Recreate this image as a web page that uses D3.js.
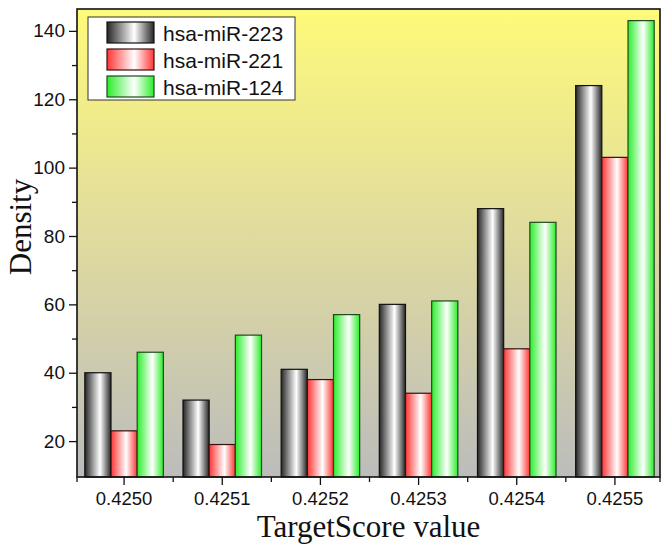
<!DOCTYPE html>
<html>
<head>
<meta charset="utf-8">
<script src="https://cdn.jsdelivr.net/npm/d3@7"></script>
<style>
  body { margin: 0; background: #fff; }
  .axis text { font-family: 'Liberation Sans', Arial, sans-serif; font-size: 19px; fill: #111; }
  .x-axis text { font-size: 18.5px; }
  .axis line { stroke: #111; stroke-width: 1.3; }
  .title { font-family: 'Liberation Serif', 'Times New Roman', serif; font-size: 31px; fill: #111; }
</style>
</head>
<body>
<div id="chart"></div>
<script>
// values
let scores = ['0.4250', '0.4251', '0.4252', '0.4253', '0.4254', '0.4255']
let mir223 = [40, 32, 41, 60, 88, 124]
let mir221 = [23, 19, 38, 34, 47, 103]
let mir124 = [46, 51, 57, 61, 84, 143]
let seriesNames = ['hsa-miR-223', 'hsa-miR-221', 'hsa-miR-124']
let yTicks = [20, 40, 60, 80, 100, 120, 140]
let yMinorTicks = [30, 50, 70, 90, 110, 130]

let seriesValues = [mir223, mir221, mir124]
let edgeColors = ['#262626', '#ff3535', '#2aee2a']
let strokeColors = ['#111', '#3a1010', '#1e4a1e']

let margin = { top: 9, left: 77, right: 10, bottom: 76 }
let width = 670 - margin.left - margin.right
let height = 553 - margin.top - margin.bottom

let svg = d3
  .select('#chart')
  .append('svg')
  .attr('width', 670)
  .attr('height', 553)

let defs = svg.append('defs')

let bg = defs
  .append('linearGradient')
  .attr('id', 'bg')
  .attr('x1', 0).attr('y1', 0).attr('x2', 0).attr('y2', 1)
bg.append('stop').attr('offset', '0%').attr('stop-color', '#fefa7a')
bg.append('stop').attr('offset', '45%').attr('stop-color', '#e2dd9c')
bg.append('stop').attr('offset', '100%').attr('stop-color', '#bcbcbc')

edgeColors.forEach((c, i) => {
  let g = defs
    .append('linearGradient')
    .attr('id', 'bar' + i)
    .attr('x1', 0).attr('y1', 0).attr('x2', 1).attr('y2', 0)
  g.append('stop').attr('offset', '0%').attr('stop-color', c)
  g.append('stop').attr('offset', '58%').attr('stop-color', '#fff')
  g.append('stop').attr('offset', '100%').attr('stop-color', c)
})

let plot = svg
  .append('g')
  .attr('transform', `translate(${margin.left}, ${margin.top})`)

let datapoints = scores.map((s, i) => ({
  score: s,
  values: seriesNames.map((name, j) => ({ name: name, idx: j, value: seriesValues[j][i] }))
}))

let xPositionScale = d3
  .scaleBand()
  .domain(scores)
  .range([-2, width + 4])
  .paddingInner(0.2)
  .paddingOuter(0.1)

let xSeriesScale = d3
  .scaleBand()
  .domain(seriesNames)
  .range([0, xPositionScale.bandwidth()])

let yPositionScale = d3.scaleLinear().domain([9.5, 146.4]).range([height, 0])

plot
  .append('rect')
  .attr('width', width)
  .attr('height', height)
  .attr('fill', 'url(#bg)')

let groups = plot
  .selectAll('.group')
  .data(datapoints)
  .enter()
  .append('g')
  .attr('class', 'group')
  .attr('transform', d => `translate(${xPositionScale(d.score)}, 0)`)

groups
  .selectAll('rect')
  .data(d => d.values)
  .enter()
  .append('rect')
  .attr('x', d => xSeriesScale(d.name))
  .attr('y', d => yPositionScale(d.value))
  .attr('width', xSeriesScale.bandwidth())
  .attr('height', d => height - yPositionScale(d.value))
  .attr('fill', d => `url(#bar${d.idx})`)
  .attr('stroke', d => strokeColors[d.idx])
  .attr('stroke-width', 1.2)

// axes
let yAxis = d3.axisLeft(yPositionScale).tickValues(yTicks).tickSize(8).tickPadding(4)
plot.append('g').attr('class', 'axis y-axis').call(yAxis)

let yMinor = d3.axisLeft(yPositionScale).tickValues(yMinorTicks).tickSize(5).tickFormat('')
plot.append('g').attr('class', 'axis y-axis').call(yMinor)

let xAxis = d3.axisBottom(xPositionScale).tickSize(8).tickPadding(7)
plot
  .append('g')
  .attr('class', 'axis x-axis')
  .attr('transform', `translate(0, ${height})`)
  .call(xAxis)

// minor ticks half way between the groups, plus the frame corners
let step = xPositionScale.step()
let minorX = scores
  .slice(1)
  .map(s => xPositionScale(s) + xPositionScale.bandwidth() / 2 - step / 2)
minorX = [0].concat(minorX).concat([width])
plot
  .append('g')
  .attr('class', 'axis')
  .selectAll('line')
  .data(minorX)
  .enter()
  .append('line')
  .attr('x1', d => d)
  .attr('x2', d => d)
  .attr('y1', height)
  .attr('y2', height + 5)

plot.selectAll('.domain').remove()

plot
  .append('rect')
  .attr('width', width)
  .attr('height', height)
  .attr('fill', 'none')
  .attr('stroke', '#111')
  .attr('stroke-width', 1.6)

// legend
let legend = plot.append('g').attr('transform', 'translate(11, 8)')
legend
  .append('rect')
  .attr('width', 207)
  .attr('height', 83)
  .attr('fill', '#fff')
  .attr('stroke', '#333')
  .attr('stroke-width', 1)

let rows = legend
  .selectAll('.legend-row')
  .data(seriesNames)
  .enter()
  .append('g')
  .attr('class', 'legend-row')
  .attr('transform', (d, i) => `translate(19, ${5 + i * 27})`)

rows
  .append('rect')
  .attr('width', 47)
  .attr('height', 21)
  .attr('fill', (d, i) => `url(#bar${i})`)
  .attr('stroke', (d, i) => strokeColors[i])
  .attr('stroke-width', 1.2)

rows
  .append('text')
  .attr('x', 56)
  .attr('y', 11)
  .attr('dy', '0.36em')
  .attr('font-family', "'Liberation Sans', Arial, sans-serif")
  .attr('font-size', 21)
  .attr('fill', '#111')
  .text(d => d)

// titles
svg
  .append('text')
  .attr('class', 'title')
  .attr('text-anchor', 'middle')
  .attr('x', margin.left + width / 2)
  .attr('y', 537)
  .text('TargetScore value')

svg
  .append('text')
  .attr('class', 'title')
  .attr('text-anchor', 'middle')
  .attr('transform', 'translate(31, 227) rotate(-90)')
  .text('Density')
</script>
</body>
</html>
